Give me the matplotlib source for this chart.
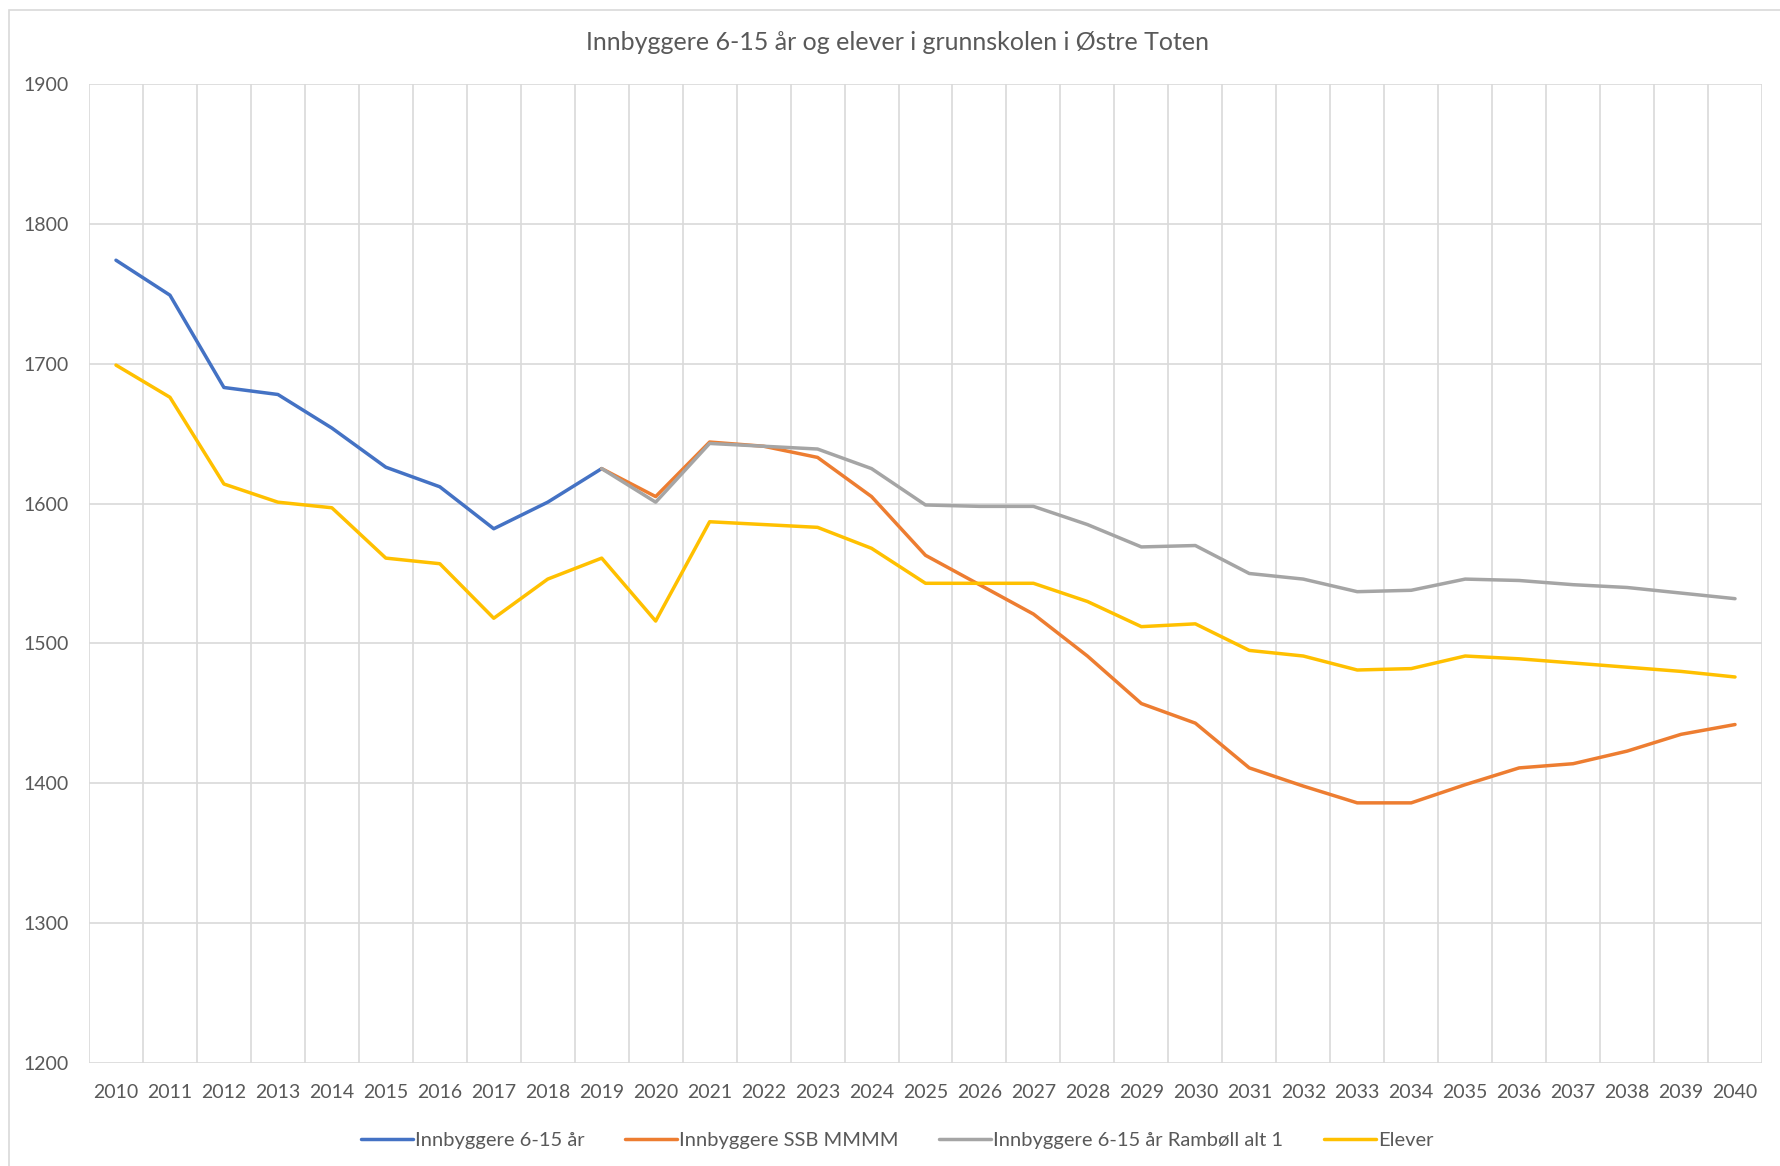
import matplotlib
matplotlib.use("Agg")
import matplotlib.pyplot as plt
from matplotlib.patches import Rectangle

years = list(range(2010, 2041))
year_labels = [str(y) for y in years]

innbyggere = [1774, 1749, 1683, 1678, 1654, 1626, 1612, 1582, 1601, 1625]
ssb_mmmm = [None] * 9 + [1625, 1605, 1644, 1641, 1633, 1605, 1563, 1542, 1521, 1491,
                         1457, 1443, 1411, 1398, 1386, 1386, 1399, 1411, 1414, 1423, 1435, 1442]
rambol = [None] * 9 + [1625, 1601, 1643, 1641, 1639, 1625, 1599, 1598, 1598, 1585,
                       1569, 1570, 1550, 1546, 1537, 1538, 1546, 1545, 1542, 1540, 1536, 1532]
elever = [1699, 1676, 1614, 1601, 1597, 1561, 1557, 1518, 1546, 1561, 1516,
          1587, 1585, 1583, 1568, 1543, 1543, 1543, 1530, 1512, 1514,
          1495, 1491, 1481, 1482, 1491, 1489, 1486, 1483, 1480, 1476]

series_names = ["Innbyggere 6-15 år", "Innbyggere SSB MMMM",
                "Innbyggere 6-15 år Rambøll alt 1", "Elever"]
colors = ["#4472C4", "#ED7D31", "#A5A5A5", "#FFC000"]

plt.rcParams['font.family'] = ['Lato', 'DejaVu Sans']
txt = "#595959"

W, H = 1781, 1166
fig = plt.figure(figsize=(W / 100, H / 100), dpi=100)
fig.patches.append(Rectangle((9 / W, -0.05), 1.2, 1 - 10 / H + 0.05, transform=fig.transFigure,
                             fill=False, edgecolor="#d9d9d9", linewidth=1.2, zorder=0))

ax = fig.add_axes([89 / W, 1 - 1063 / H, (1762 - 89) / W, (1063 - 84) / H])

x = list(range(len(years)))
def xy(vals):
    pts = [(i, v) for i, v in enumerate(vals) if v is not None]
    return [p[0] for p in pts], [p[1] for p in pts]

for vals, name, c in zip([innbyggere, ssb_mmmm, rambol, elever], series_names, colors):
    xs, ys = xy(vals)
    ax.plot(xs, ys, color=c, lw=2.5, label=name, solid_joinstyle='round', solid_capstyle='round')

ax.set_xlim(-0.5, len(years) - 0.5)
ax.set_ylim(1200, 1900)
ax.set_yticks(range(1200, 1901, 100))
ax.set_xticks(x)
ax.set_xticklabels(year_labels)
ax.set_xticks([i - 0.5 for i in range(len(years) + 1)], minor=True)
ax.grid(True, which='minor', axis='x', color="#d9d9d9", lw=1.2)
ax.grid(True, which='major', axis='y', color="#d9d9d9", lw=1.2)
ax.set_axisbelow(True)
for s in ax.spines.values():
    s.set_visible(False)
ax.tick_params(axis='both', which='both', length=0, colors=txt, labelsize=14)
ax.tick_params(axis='x', pad=15)
ax.tick_params(axis='y', pad=14.5)

fig.text(897 / W, 1 - 42 / H, "Innbyggere 6-15 år og elever i grunnskolen i Østre Toten",
         ha='center', va='center', fontsize=18, color=txt)

fig.legend(loc='center', bbox_to_anchor=(897 / W, 1 - 1140 / H), ncol=4, frameon=False,
           fontsize=14.5, labelcolor=txt, handlelength=2.6, handletextpad=0.1, columnspacing=2.0)

fig.savefig("out.png", dpi=100)
